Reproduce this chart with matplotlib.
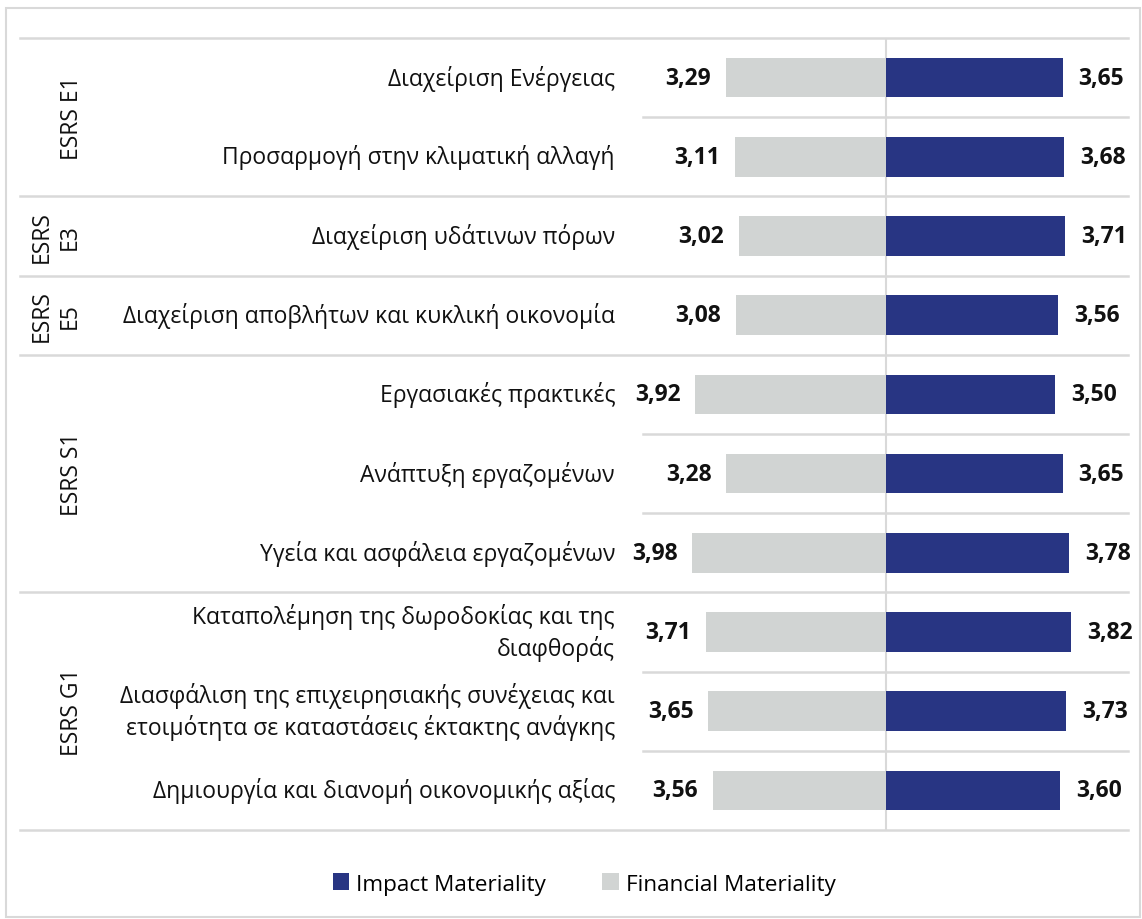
import matplotlib
matplotlib.use("Agg")
import matplotlib.pyplot as plt
from matplotlib.patches import Rectangle, Patch
import matplotlib.transforms as mtransforms

plt.rcParams['font.family'] = ['Open Sans', 'DejaVu Sans']

categories = [
    "Διαχείριση Ενέργειας",
    "Προσαρμογή στην κλιματική αλλαγή",
    "Διαχείριση υδάτινων πόρων",
    "Διαχείριση αποβλήτων και κυκλική οικονομία",
    "Εργασιακές πρακτικές",
    "Ανάπτυξη εργαζομένων",
    "Υγεία και ασφάλεια εργαζομένων",
    "Καταπολέμηση της δωροδοκίας και της\nδιαφθοράς",
    "Διασφάλιση της επιχειρησιακής συνέχειας και\nετοιμότητα σε καταστάσεις έκτακτης ανάγκης",
    "Δημιουργία και διανομή οικονομικής αξίας",
]
financial = [3.29, 3.11, 3.02, 3.08, 3.92, 3.28, 3.98, 3.71, 3.65, 3.56]
impact = [3.65, 3.68, 3.71, 3.56, 3.50, 3.65, 3.78, 3.82, 3.73, 3.60]
groups = ["ESRS E1", "ESRS\nE3", "ESRS\nE5", "ESRS S1", "ESRS G1"]
group_sizes = [2, 1, 1, 3, 3]

NAVY = "#283583"
GREY = "#D1D4D3"
LINE = "#D9D9D9"
TXT = "#111111"

W, H = 1142, 920
fig = plt.figure(figsize=(W / 100, H / 100), dpi=100)

# outer border
fig.add_artist(Rectangle((6 / W, 1 - 918 / H), (1140 - 6) / W, (918 - 9) / H,
                         transform=fig.transFigure, fill=False,
                         edgecolor=LINE, linewidth=1.5))

ax_l, ax_r, ax_t, ax_b = 643, 1128, 39, 831
ax = fig.add_axes([ax_l / W, 1 - ax_b / H, (ax_r - ax_l) / W, (ax_b - ax_t) / H])
n = len(categories)
ys = list(range(n))
ax.barh(ys, [-v for v in financial], height=0.5, color=GREY, zorder=2)
ax.barh(ys, impact, height=0.5, color=NAVY, zorder=2)
ax.set_xlim(-5, 5)
ax.set_ylim(n - 0.5, -0.5)
ax.axis('off')
ax.axvline(0, color=LINE, linewidth=1.5, zorder=1)

def fmt(v):
    return f"{v:.2f}".replace('.', ',')

for y, f, im in zip(ys, financial, impact):
    ax.annotate(fmt(f), (-f, y), xytext=(-15, 0), textcoords='offset pixels',
                ha='right', va='center', fontsize=16.5, fontweight='bold', color=TXT)
    ax.annotate(fmt(im), (im, y), xytext=(16, 0), textcoords='offset pixels',
                ha='left', va='center', fontsize=16.5, fontweight='bold', color=TXT)

# category labels
trans_lbl = mtransforms.blended_transform_factory(fig.transFigure, ax.transData)
for y, c in zip(ys, categories):
    ax.text(615 / W, y, c, transform=trans_lbl, ha='right', va='center',
            fontsize=16.5, color=TXT, linespacing=1.3)

# separators
x_full0 = 20 / W
x_ax0 = ax_l / W
x_end = ax_r / W
bounds = [-0.5]
acc = -0.5
for s in group_sizes:
    acc += s
    bounds.append(acc)
inner = []
start = -0.5
for s in group_sizes:
    for k in range(1, s):
        inner.append(start + k)
    start += s
for b in bounds:
    ax.plot([x_full0, x_end], [b, b], transform=trans_lbl, color=LINE,
            linewidth=1.8, clip_on=False, zorder=0)
for b in inner:
    ax.plot([x_ax0, x_end], [b, b], transform=trans_lbl, color=LINE,
            linewidth=1.8, clip_on=False, zorder=0)

# group labels
for g, lo, hi in zip(groups, bounds[:-1], bounds[1:]):
    mid = (lo + hi) / 2
    xg = 56 / W if '\n' in g else 72 / W
    ax.text(xg, mid, g, transform=trans_lbl, rotation=90, ha='center',
            va='center', fontsize=16.5, color=TXT, linespacing=1.25)

handles = [Patch(facecolor=NAVY, label='Impact Materiality'),
           Patch(facecolor=GREY, label='Financial Materiality')]
fig.legend(handles=handles, loc='center', bbox_to_anchor=(584 / W, 1 - 885 / H),
           ncol=2, frameon=False, fontsize=16.2, handlelength=0.75,
           handleheight=0.75, handletextpad=0.3, columnspacing=2.5)

fig.savefig("out.png", dpi=100)
